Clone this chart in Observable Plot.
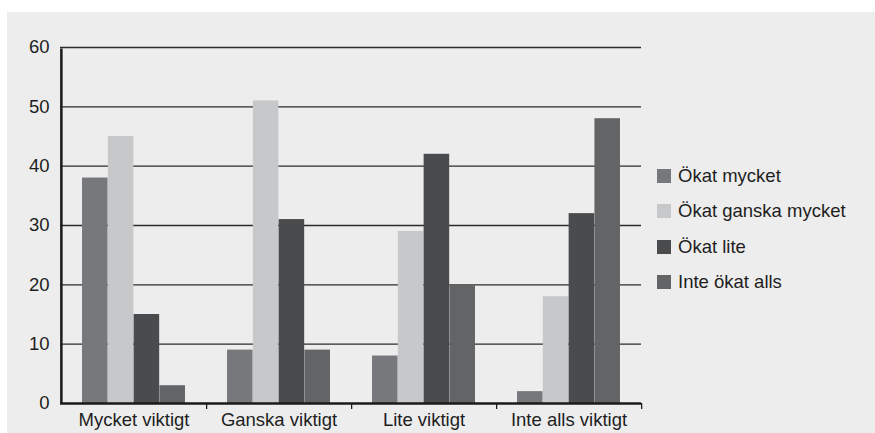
<!DOCTYPE html>
<html>
<head>
<meta charset="utf-8">
<script src="https://cdn.jsdelivr.net/npm/d3@7"></script>
<script src="https://cdn.jsdelivr.net/npm/@observablehq/plot@0.6"></script>
<style>
  html, body { margin: 0; padding: 0; background: #ffffff; }
  #wrap { position: absolute; left: 7px; top: 12px; width: 868px; height: 421px; background: #ededed; font-family: "Liberation Sans", Arial, sans-serif; }
  #legend { position: absolute; left: 650px; top: 146px; }
  .item { display: flex; align-items: center; height: 35.5px; font-size: 18.5px; color: #1e1e1e; }
  .sw { width: 14px; height: 14px; margin-right: 7px; }
  svg { display: block; }
</style>
</head>
<body>
<div id="wrap"><div id="chart"></div><div id="legend"></div></div>
<script>
const categories = ["Mycket viktigt", "Ganska viktigt", "Lite viktigt", "Inte alls viktigt"];
const series = ["Ökat mycket", "Ökat ganska mycket", "Ökat lite", "Inte ökat alls"];
const colors = ["#77787b", "#c7c8ca", "#4a4b4d", "#636466"];
const okatMycket = [38, 9, 8, 2];
const okatGanskaMycket = [45, 51, 29, 18];
const okatLite = [15, 31, 42, 32];
const inteOkatAlls = [3, 9, 20, 48];
const yTicks = [0, 10, 20, 30, 40, 50, 60];

const seriesValues = [okatMycket, okatGanskaMycket, okatLite, inteOkatAlls];
const data = [];
series.forEach((s, i) => categories.forEach((c, j) => data.push({category: c, series: s, value: seriesValues[i][j]})));

const W = 868, H = 421, mL = 53, mR = 234, mT = 35, mB = 30;
const step = (W - mL - mR) / categories.length;
const barW = 25.8;
const outer = (step - barW * series.length) / 2;

const barMarks = series.map((s, i) => Plot.barY(data.filter(d => d.series === s), {
  x: "category", y: "value", fill: colors[i],
  insetLeft: outer + i * barW, insetRight: outer + (series.length - 1 - i) * barW
}));

const chart = Plot.plot({
  width: W, height: H,
  marginLeft: mL, marginRight: mR, marginTop: mT, marginBottom: mB,
  style: {background: "transparent", fontSize: "18.5px", fontFamily: "'Liberation Sans', Arial, sans-serif", color: "#1e1e1e"},
  x: {domain: categories, padding: 0, tickSize: 0, tickPadding: 9, label: null},
  y: {domain: [0, 60], ticks: yTicks, tickSize: 0, tickPadding: 11, label: null},
  marks: [
    Plot.ruleY(yTicks.filter(t => t > 0), {stroke: "#2b2b2b", strokeWidth: 1.3}),
    ...barMarks,
    Plot.ruleY([0], {stroke: "#1a1a1a", strokeWidth: 2.5}),
    Plot.ruleX(categories.slice(0, 1), {x: d => d, dx: -step / 2, y1: 0, y2: 60, insetBottom: -1.5, stroke: "#1a1a1a", strokeWidth: 2.5}),
    Plot.ruleX(categories, {x: d => d, dx: step / 2, y1: 0, y2: 0, insetBottom: -6, stroke: "#1a1a1a", strokeWidth: 1.3})
  ]
});
document.getElementById("chart").appendChild(chart);

const legend = document.getElementById("legend");
series.forEach((s, i) => {
  const it = document.createElement("div");
  it.className = "item";
  const sw = document.createElement("div");
  sw.className = "sw";
  sw.style.background = colors[i];
  const tx = document.createElement("span");
  tx.textContent = s;
  it.appendChild(sw); it.appendChild(tx);
  legend.appendChild(it);
});
</script>
</body>
</html>
